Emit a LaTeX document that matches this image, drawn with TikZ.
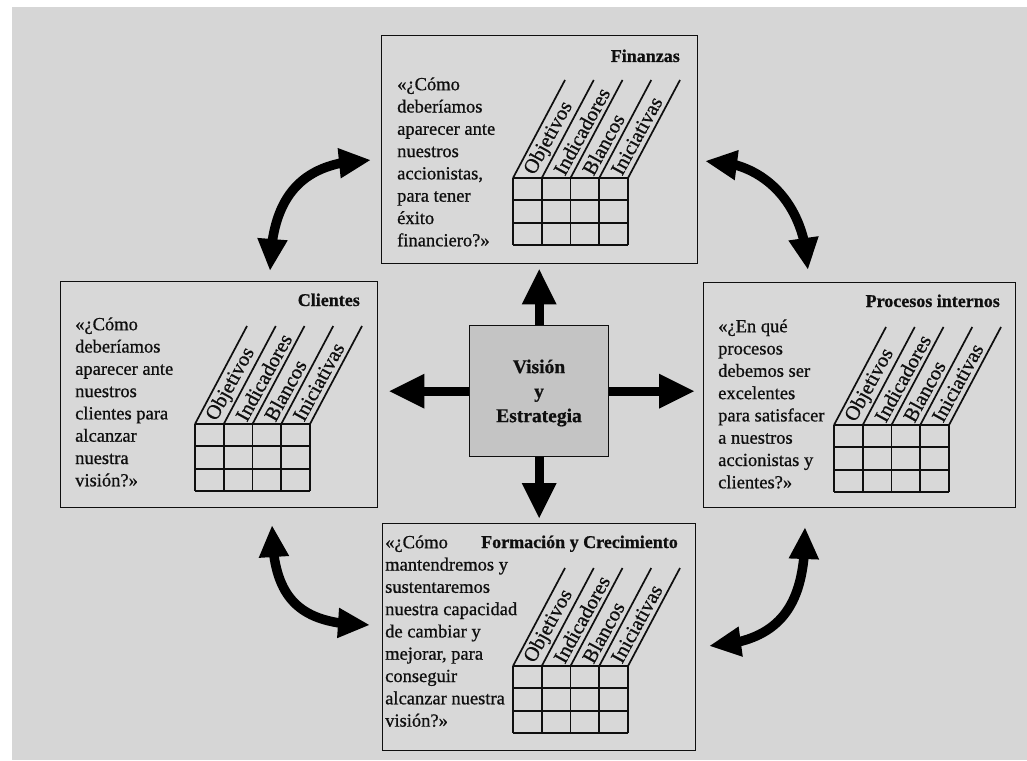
\documentclass[tikz,border=0pt]{standalone}
\usepackage{fontspec}
\setmainfont{Liberation Serif}[RawFeature={embolden=0.8}]
\usetikzlibrary{arrows.meta,bending}
\definecolor{bgcol}{RGB}{214,214,214}
\definecolor{boxfill}{RGB}{216,216,216}
\definecolor{cenfill}{RGB}{196,196,196}
\definecolor{ink}{RGB}{15,15,15}
\tikzset{
 card/.style={draw=ink, line width=1.4pt, fill=boxfill, inner sep=0pt, anchor=north west},
 body/.style={anchor=north west, align=left, inner sep=0pt, font=\fontsize{18.5}{22.3}\selectfont, text=ink},
 ttl/.style={anchor=base east, inner sep=0pt, font=\bfseries\fontsize{18}{22}\selectfont, text=ink},
 gridline/.style={draw=ink, line width=1.7pt},
 collabel/.style={anchor=west, rotate=61.35, inner sep=0pt, font=\fontsize{20.5}{22}\selectfont, text=ink},
 bigarrow/.style={draw=black, line width=9pt, -{Triangle[length=36pt,width=32pt]}},
 biarrow/.style={draw=black, line width=9.5pt, {Triangle[length=32pt,width=28pt]}-{Triangle[length=32pt,width=28pt]}},
}
\newcommand\bscgrid[3]{%
  \foreach \i in {0,...,4}{
    \draw[gridline] ({#2+\i*28.75},#3) -- ++(0,67);
    \draw[gridline] ({#2+\i*28.75},#3) -- ++(52,-98);
  }
  \foreach \j in {0,...,3}
    \draw[gridline] (#2,{#3+\j*22.33}) -- ++(115,0);
  \foreach \lab [count=\k from 0] in {Objetivos,Indicadores,Blancos,Iniciativas}
    \node[collabel] (#1-\k) at ({#2+\k*28.75+14.4+2.5},{#3-4.5}) {\lab};
}
\begin{document}
\begin{tikzpicture}[x=1pt,y=-1pt]
\useasboundingbox (0,0) rectangle (1027,760);
\fill[bgcol] (12,7) rectangle (1027,760);

% boxes
\node[card, minimum width=316pt, minimum height=228pt] (fin) at (381,35) {};
\node[card, minimum width=317pt, minimum height=226pt] (cli) at (60,281) {};
\node[card, minimum width=312pt, minimum height=225pt] (pro) at (703,282) {};
\node[card, minimum width=313pt, minimum height=227pt] (for) at (382,523) {};
\node[card, fill=cenfill, minimum width=139pt, minimum height=131pt] (cen) at (469,325) {};
\node[align=center, inner sep=0pt, font=\bfseries\fontsize{19.5}{24.5}\selectfont, text=ink] (centxt) at (539,393) {Visión\\y\\Estrategia};

% titles
\node[ttl] (finttl) at (680,62) {Finanzas};
\node[ttl] (clittl) at (360,306) {Clientes};
\node[ttl] (prottl) at (1000,307) {Procesos internos};
\node[ttl] (forttl) at (678,548) {Formación y Crecimiento};

% body texts (first baseline = anchor y + 15.6)
\node[body] (fintxt) at (397,74.4) {\strut«¿Cómo\\deberíamos\\aparecer ante\\nuestros\\accionistas,\\para tener\\éxito\\financiero?»};
\node[body] (clitxt) at (75,314.4) {\strut«¿Cómo\\deberíamos\\aparecer ante\\nuestros\\clientes para\\alcanzar\\nuestra\\visión?»};
\node[body] (protxt) at (718,316.4) {\strut«¿En qué\\procesos\\debemos ser\\excelentes\\para satisfacer\\a nuestros\\accionistas y\\clientes?»};
\node[body] (fortxt) at (385,532.4) {\strut«¿Cómo\\mantendremos y\\sustentaremos\\nuestra capacidad\\de cambiar y\\mejorar, para\\conseguir\\alcanzar nuestra\\visión?»};

% grids
\bscgrid{fg}{513}{178}
\bscgrid{cg}{195}{424}
\bscgrid{pg}{834}{425}
\bscgrid{og}{513}{666}

% center arrows
\draw[bigarrow, shorten >=4pt] (cen.north) -- (cen.north |- fin.south);
\draw[bigarrow, shorten >=10pt] (cen.west) -- (cen.west -| cli.east);
\draw[bigarrow, shorten >=8pt] (cen.east) -- (cen.east -| pro.west);
\draw[bigarrow, shorten >=4pt] (cen.south) -- (cen.south |- for.north);

% curved arrows
\coordinate (tla) at (270,271); \coordinate (tlb) at (371,160);
\coordinate (tra) at (705,161); \coordinate (trb) at (808,270);
\coordinate (bla) at (272,525); \coordinate (blb) at (370,625);
\coordinate (bra) at (805,527); \coordinate (brb) at (709,646);
\draw[biarrow] (tla) .. controls (271,198) and (300,161) .. (tlb);
\draw[biarrow] (tra) .. controls (760,160) and (805,200) .. (trb);
\draw[biarrow] (bla) .. controls (272,600) and (300,625) .. (blb);
\draw[biarrow] (bra) .. controls (806,600) and (785,642) .. (brb);
\end{tikzpicture}
\end{document}
